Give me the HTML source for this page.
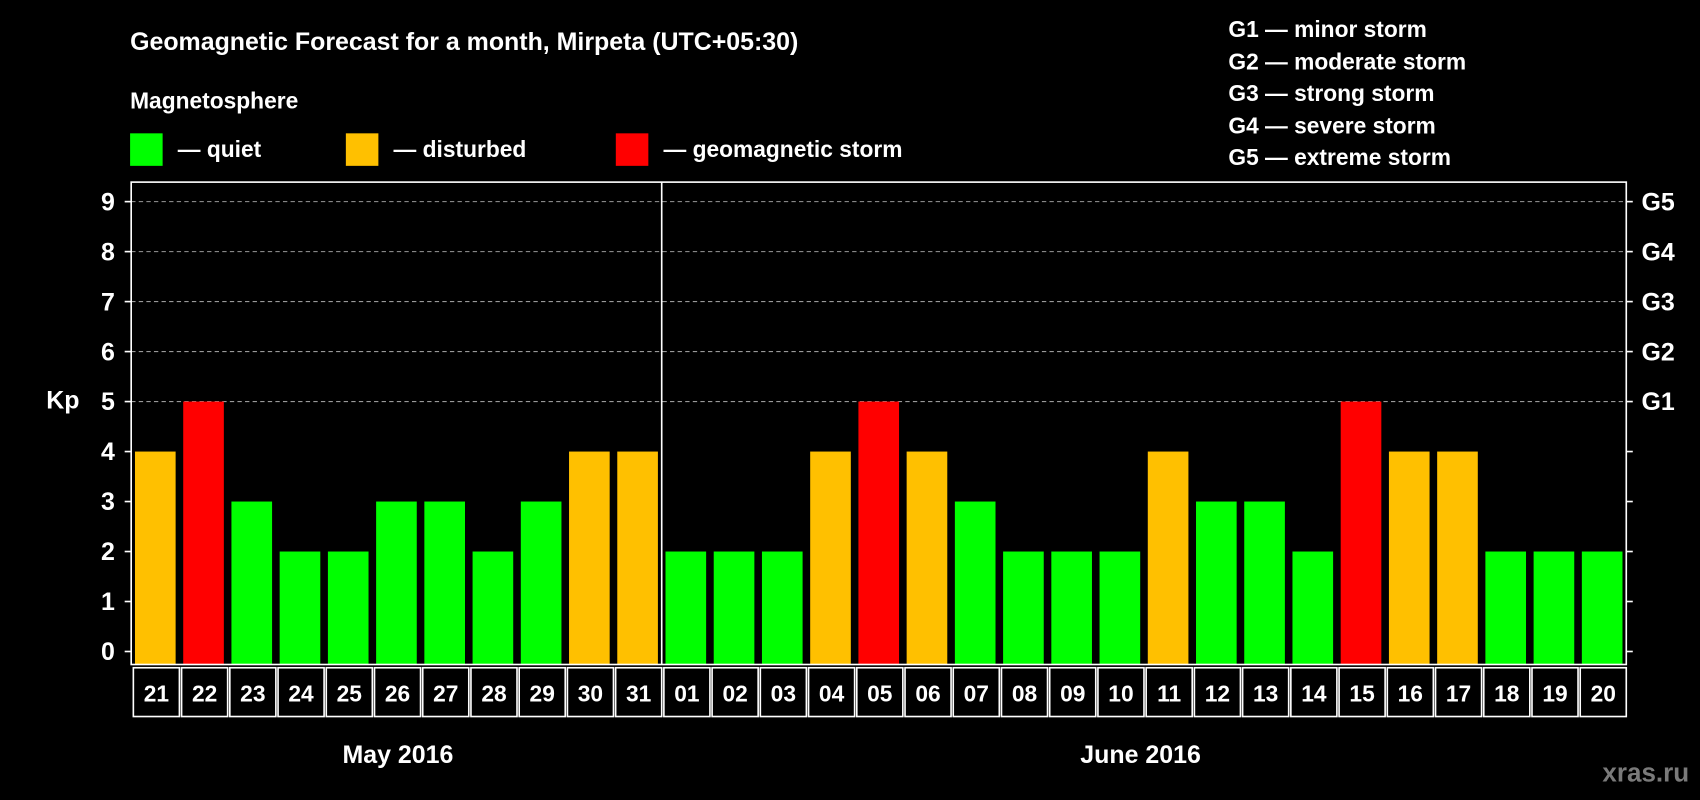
<!DOCTYPE html>
<html><head><meta charset="utf-8"><style>
html,body{margin:0;padding:0;background:#000;width:1700px;height:800px;overflow:hidden}
svg{display:block}
text{font-family:"Liberation Sans",Arial,sans-serif;font-weight:bold;fill:#fff}
</style></head><body>
<svg id="chart" width="1700" height="800" viewBox="0 0 1568 738" preserveAspectRatio="none" xmlns="http://www.w3.org/2000/svg">
<rect x="0" y="0" width="1568" height="738" fill="#000"/>
<text x="120" y="46" font-size="23">Geomagnetic Forecast for a month, Mirpeta (UTC+05:30)</text>
<text x="120" y="100" font-size="21">Magnetosphere</text>
<g><rect x="120" y="123" width="30" height="30" fill="#00ff00"/><text x="164" y="145" font-size="21">— quiet</text></g>
<g><rect x="319" y="123" width="30" height="30" fill="#ffc000"/><text x="363" y="145" font-size="21">— disturbed</text></g>
<g><rect x="568" y="123" width="30" height="30" fill="#ff0000"/><text x="612" y="145" font-size="21">— geomagnetic storm</text></g>
<g font-size="21">
<text x="1133" y="34">G1 — minor storm</text>
<text x="1133" y="64">G2 — moderate storm</text>
<text x="1133" y="93">G3 — strong storm</text>
<text x="1133" y="123">G4 — severe storm</text>
<text x="1133" y="152">G5 — extreme storm</text>
</g>
<text x="58" y="377" font-size="23" text-anchor="middle">Kp</text>
<g id="plot"></g>
<text x="367" y="704" font-size="23" text-anchor="middle">May 2016</text>
<text x="1052" y="704" font-size="23" text-anchor="middle">June 2016</text>
<text x="1558" y="721" font-size="24" text-anchor="end" style="fill:#7a7a7a">xras.ru</text>
</svg>
<script>
const days = ["21","22","23","24","25","26","27","28","29","30","31","01","02","03","04","05","06","07","08","09","10","11","12","13","14","15","16","17","18","19","20"];
const kpValues = [4,5,3,2,2,3,3,2,3,4,4,2,2,2,4,5,4,3,2,2,2,4,3,3,2,5,4,4,2,2,2];
const yTicks = [0,1,2,3,4,5,6,7,8,9];
const gLabels = ["","","","","","G1","G2","G3","G4","G5"];
const monthSplitIndex = 11;

const NS = "http://www.w3.org/2000/svg";
const g = document.getElementById("plot");
const L = 121, R = 1500, T = 168, B = 613;
const bw = (R - L) / days.length;
const y = v => 601 - v * (601 - 186) / 9;
const x = i => L + i * bw;
function mk(tag, attrs){const e=document.createElementNS(NS,tag);for(const k in attrs)e.setAttribute(k,attrs[k]);g.appendChild(e);return e;}

yTicks.forEach((t,i)=>{
  if(t>=5){const gl=mk("line",{x1:L,x2:R,y1:y(t),y2:y(t),stroke:"#999","stroke-dasharray":"4,3","stroke-width":1});
  
  }
  mk("line",{x1:L-6,x2:L,y1:y(t),y2:y(t),stroke:"#fff","stroke-width":1.5});
  mk("line",{x1:R,x2:R+6,y1:y(t),y2:y(t),stroke:"#fff","stroke-width":1.5});
  const lt=mk("text",{x:106,y:y(t)+8,"font-size":23,"text-anchor":"end"});lt.textContent=t;
  
  
  if(gLabels[i]){const rt=mk("text",{x:1514,y:y(t)+8,"font-size":23});rt.textContent=gLabels[i];
  
  }
});
kpValues.forEach((v,i)=>{
  const c = v>=5?"#ff0000":(v>=4?"#ffc000":"#00ff00");
  const b=mk("rect",{x:x(i)+3.5,y:y(v),width:bw-7,height:B-y(v),fill:c});
  
  
  const cell=mk("rect",{x:x(i)+2,y:B+3,width:bw-2,height:45,fill:"none",stroke:"#fff","stroke-width":1.5});
  
  
  const tl=mk("text",{x:x(i)+bw/2+1,y:B+34,"font-size":21,"text-anchor":"middle"});tl.textContent=days[i];
  
  
});
const fr=mk("rect",{x:L,y:T,width:R-L,height:B-T,fill:"none",stroke:"#fff","stroke-width":1.5});


const dv=mk("line",{x1:x(monthSplitIndex),x2:x(monthSplitIndex),y1:T,y2:B,stroke:"#fff","stroke-width":1.5});


</script>
</body></html>
